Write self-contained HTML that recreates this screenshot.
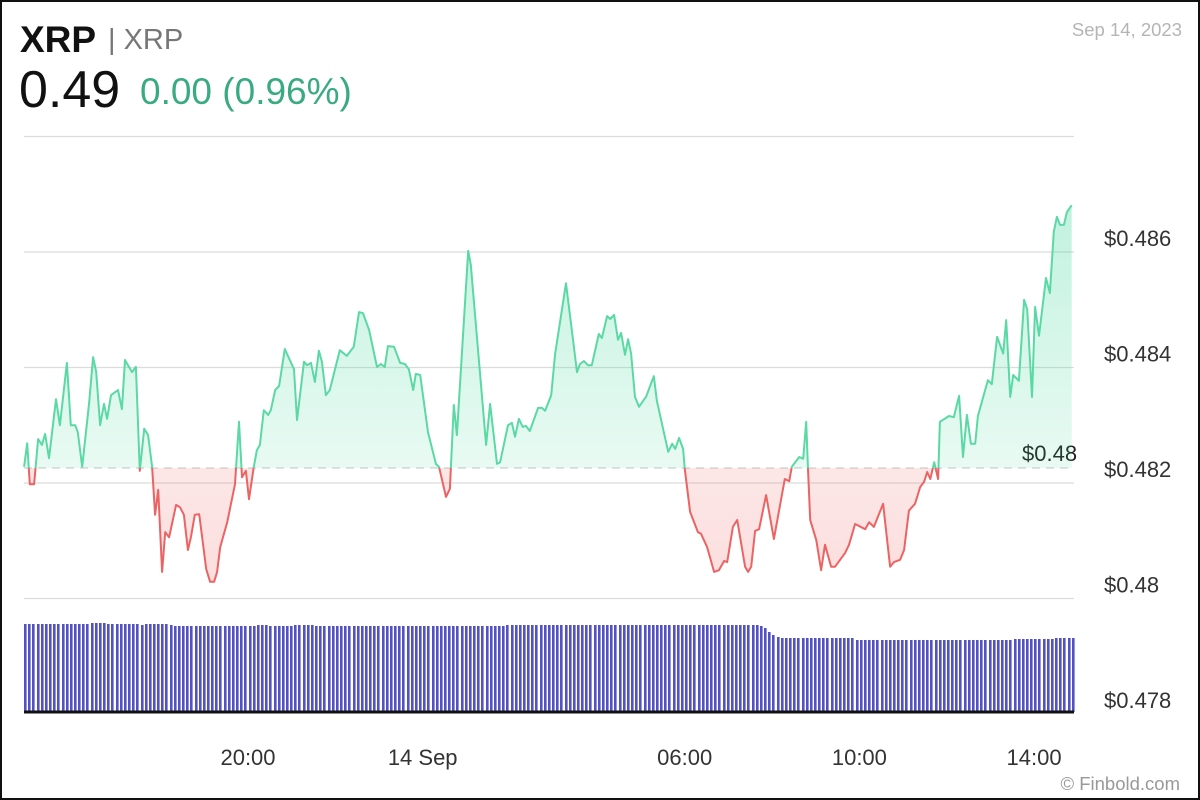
<!DOCTYPE html>
<html><head><meta charset="utf-8">
<style>
html,body{margin:0;padding:0;background:#fff;}
#wrap{position:relative;width:1196px;height:796px;border:2px solid #111;overflow:hidden;font-family:"Liberation Sans",sans-serif;}
.t{position:absolute;white-space:nowrap;}
</style></head>
<body>
<div id="wrap">
<div class="t" style="left:18px;top:17px;font-size:37px;font-weight:bold;color:#111;">XRP</div>
<div class="t" style="left:106px;top:22px;font-size:29px;color:#777;">| XRP</div>
<div class="t" style="left:17px;top:58px;font-size:52px;color:#111;">0.49</div>
<div class="t" style="left:138px;top:69px;font-size:37px;color:#3aaa82;">0.00 (0.96%)</div>
<div class="t" style="right:16px;top:17px;font-size:18.5px;color:#b5b5b5;">Sep 14, 2023</div>
<div class="t" style="right:18px;top:771px;font-size:18.5px;color:#999;">© Finbold.com</div>
<svg id="chart" width="1196" height="796" style="position:absolute;left:0;top:0;"></svg>
</div>
<script>
const priceTimes=[14.85,14.92,14.98,15.08,15.17,15.26,15.33,15.42,15.58,15.67,15.83,15.92,16.02,16.08,16.18,16.34,16.43,16.50,16.59,16.68,16.75,16.84,17.00,17.09,17.16,17.32,17.41,17.50,17.60,17.69,17.78,17.85,17.92,18.01,18.08,18.17,18.33,18.42,18.51,18.60,18.67,18.76,18.86,19.02,19.11,19.20,19.27,19.34,19.50,19.68,19.77,19.84,19.93,20.00,20.11,20.18,20.25,20.34,20.44,20.50,20.60,20.69,20.82,21.03,21.10,21.26,21.33,21.42,21.51,21.60,21.67,21.76,21.85,22.08,22.24,22.40,22.52,22.61,22.75,22.93,23.02,23.11,23.18,23.32,23.46,23.57,23.66,23.76,23.82,23.92,24.10,24.28,24.35,24.51,24.60,24.69,24.76,25.02,25.08,25.43,25.52,25.68,25.75,25.93,26.02,26.09,26.18,26.27,26.34,26.43,26.62,26.71,26.78,26.92,27.01,27.26,27.51,27.58,27.67,27.76,27.85,28.01,28.08,28.20,28.27,28.36,28.45,28.52,28.61,28.68,28.75,28.84,28.93,29.05,29.09,29.27,29.34,29.60,29.69,29.76,29.85,29.94,29.98,30.10,30.28,30.35,30.49,30.65,30.76,30.88,30.95,31.08,31.18,31.36,31.43,31.50,31.59,31.68,31.84,32.02,32.27,32.37,32.43,32.60,32.69,32.76,32.80,32.85,32.99,33.10,33.19,33.33,33.42,33.65,33.74,33.88,34.11,34.20,34.31,34.52,34.68,34.77,34.91,35.00,35.11,35.25,35.37,35.46,35.53,35.60,35.69,35.78,35.82,36.03,36.14,36.26,36.35,36.44,36.53,36.63,36.69,36.92,37.01,37.13,37.27,37.34,37.43,37.50,37.63,37.75,37.82,37.93,38.00,38.09,38.25,38.34,38.43,38.50,38.57,38.66,38.73,38.84];
const priceValues=[.48228,.48269,.48198,.48198,.48276,.48266,.48285,.48243,.48345,.48300,.48408,.48300,.48300,.48288,.48228,.48340,.48418,.48392,.48300,.48337,.48311,.48352,.48361,.48328,.48413,.48392,.48401,.48221,.48294,.48283,.48228,.48145,.48188,.48046,.48115,.48106,.48162,.48158,.48145,.48084,.48106,.48145,.48146,.48051,.48029,.48029,.48046,.48089,.48132,.48198,.48306,.48210,.48221,.48172,.48228,.48257,.48266,.48326,.48318,.48326,.48361,.48368,.48432,.48397,.48309,.48410,.48404,.48408,.48375,.48429,.48410,.48352,.48361,.48430,.48420,.48436,.48496,.48494,.48465,.48401,.48406,.48401,.48437,.48436,.48408,.48406,.48397,.48361,.48389,.48387,.48288,.48233,.48228,.48176,.48190,.48335,.48283,.48602,.48578,.48266,.48337,.48233,.48236,.48300,.48304,.48280,.48311,.48297,.48299,.48290,.48330,.48330,.48325,.48352,.48423,.48546,.48392,.48406,.48411,.48404,.48404,.48458,.48451,.48489,.48484,.48491,.48448,.48460,.48422,.48449,.48424,.48349,.48332,.48345,.48349,.48385,.48342,.48254,.48268,.48259,.48278,.48259,.48224,.48150,.48115,.48112,.48089,.48046,.48049,.48065,.48063,.48124,.48136,.48055,.48046,.48055,.48117,.48120,.48179,.48103,.48207,.48203,.48228,.48245,.48242,.48306,.48224,.48136,.48101,.48049,.48093,.48055,.48055,.48079,.48093,.48129,.48120,.48132,.48124,.48164,.48055,.48063,.48067,.48084,.48152,.48164,.48193,.48202,.48219,.48207,.48236,.48207,.48306,.48316,.48314,.48351,.48245,.48318,.48268,.48268,.48316,.48378,.48371,.48453,.48424,.48482,.48349,.48387,.48377,.48517,.48501,.48349,.48505,.48455,.48555,.48529,.48635,.48661,.48647,.48647,.48669,.48681];
const basePrice=0.48226;
const yTicks=[0.488,0.486,0.484,0.482,0.480,0.478];
const yTickLabels=["","$0.486","$0.484","$0.482","$0.48","$0.478"];
const xTicks=[20,24,30,34,38];
const xTickLabels=["20:00","14 Sep","06:00","10:00","14:00"];
const volStart=14.85, volEnd=38.84;
const volumes=[88,88,88,88,88,88,88,88,88,88,88,88,88,88,88,88,89,89,89,89,88,88,88,88,88,88,88,88,87,88,88,88,88,88,88,87,86,86,86,86,86,86,86,86,86,86,86,86,86,86,86,86,86,86,86,86,87,87,87,86,86,86,86,86,86,87,87,87,87,87,86,86,86,86,86,86,86,86,86,86,86,86,86,86,86,86,86,86,86,86,86,86,86,86,86,86,86,86,86,86,86,86,86,86,86,86,86,86,86,86,86,86,86,86,86,86,87,87,87,87,87,87,87,87,87,87,87,87,87,87,87,87,87,87,87,87,87,87,87,87,87,87,87,87,87,87,87,87,87,87,87,87,87,87,87,87,87,87,87,87,87,87,87,87,87,87,87,87,87,87,87,87,87,87,87,87,87,86,84,80,77,75,74,74,74,74,74,74,74,74,74,74,74,74,74,74,74,74,74,74,72,72,72,72,72,72,72,72,72,72,72,72,72,72,72,72,72,72,72,72,72,72,72,72,72,72,72,72,72,72,72,72,72,72,72,72,72,72,73,73,73,73,73,73,73,73,73,73,74,74,74,74,74];

const NS="http://www.w3.org/2000/svg";
const svg=document.getElementById('chart');
const X0=22,X1=1072;
function xs(t){return 247+(t-20)*43.67;}
function ys(p){return 481-(p-0.482)*57750;}
function vh(v){return v;}
function mk(tag,attrs,parent){const e=document.createElementNS(NS,tag);for(const k in attrs)e.setAttribute(k,attrs[k]);(parent||svg).appendChild(e);return e;}

const defs=mk('defs',{});
defs.innerHTML='<linearGradient id="gg" x1="0" y1="0" x2="0" y2="1"><stop offset="0" stop-color="#3fd69a" stop-opacity="0.32"/><stop offset="1" stop-color="#3fd69a" stop-opacity="0.03"/></linearGradient><linearGradient id="rg" x1="0" y1="0" x2="0" y2="1"><stop offset="0" stop-color="#f06a6a" stop-opacity="0.03"/><stop offset="1" stop-color="#f06a6a" stop-opacity="0.22"/></linearGradient>';
const by=ys(basePrice);
defs.innerHTML+='<clipPath id="above"><rect x="0" y="0" width="1196" height="'+by+'"/></clipPath><clipPath id="below"><rect x="0" y="'+by+'" width="1196" height="'+(796-by)+'"/></clipPath>';

yTicks.forEach((p,i)=>{
  const y=ys(p);
  if(i<yTicks.length-1){
    const g=mk('line',{x1:X0,x2:X1,y1:y,y2:y,stroke:'#dcdcdc','stroke-width':1.2});
    
    
  }
  if(yTickLabels[i]){
    const t=mk('text',{x:1102,y:y-6,'font-size':22,fill:'#333','font-family':'Liberation Sans, sans-serif'});
    t.textContent=yTickLabels[i];
    
    
  }
});

const volStep=(volEnd-volStart)/(volumes.length-1);
volumes.forEach((v,i)=>{
  const x=Math.round(xs(volStart+i*volStep));
  const r=mk('rect',{x:x,y:710-vh(v),width:2.6,height:vh(v),fill:'#5252c4'});
  
  
});
const ax=mk('line',{x1:X0,x2:X1,y1:710,y2:710,stroke:'#111','stroke-width':3});



const bl=mk('line',{x1:X0,x2:X1,y1:by,y2:by,stroke:'#d8d8d8','stroke-width':1.5,'stroke-dasharray':'8 6'});


const blt=mk('text',{x:1020,y:by-7,'font-size':22,fill:'#222','font-family':'Liberation Sans, sans-serif'});
blt.textContent='$0.48';



let d='';
priceTimes.forEach((t,i)=>{d+=(i?'L':'M')+xs(t).toFixed(1)+','+ys(priceValues[i]).toFixed(1);});
const area=d+'L'+xs(priceTimes[priceTimes.length-1]).toFixed(1)+','+by+'L'+xs(priceTimes[0]).toFixed(1)+','+by+'Z';
const ga=mk('path',{d:area,fill:'url(#gg)','clip-path':'url(#above)'});


const ra=mk('path',{d:area,fill:'url(#rg)','clip-path':'url(#below)'});


const gl=mk('path',{d:d,fill:'none',stroke:'#5ad9a4','stroke-width':2,'stroke-linejoin':'round','clip-path':'url(#above)'});


const rl=mk('path',{d:d,fill:'none',stroke:'#ec6363','stroke-width':2,'stroke-linejoin':'round','clip-path':'url(#below)'});



xTicks.forEach((t,i)=>{
  const tx=mk('text',{x:xs(t)-1,y:763,'font-size':22,fill:'#333','text-anchor':'middle','font-family':'Liberation Sans, sans-serif'});
  tx.textContent=xTickLabels[i];
  
  
});
</script>
</body></html>
